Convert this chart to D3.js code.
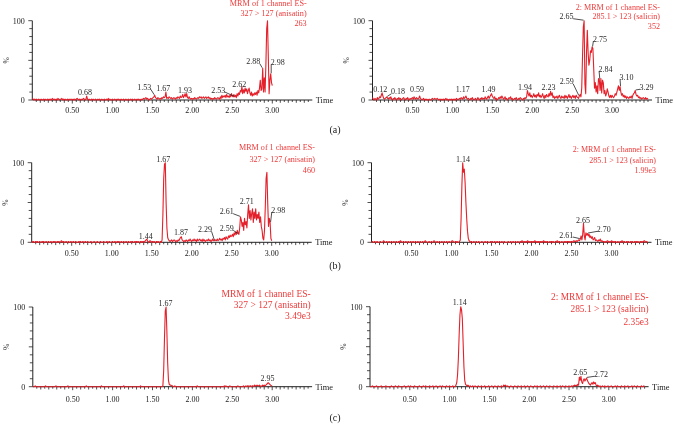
<!DOCTYPE html>
<html><head><meta charset="utf-8">
<script src="https://cdn.jsdelivr.net/npm/d3@7/dist/d3.min.js"></script>
<style>body{margin:0;background:#fff}svg{display:block;will-change:transform}</style>
</head><body>
<svg id="chart" width="674" height="424"></svg>
<script>
// ---------- DATA (relative intensity %, sampled every 0.01 min from 0.00) ----------
const STEP = 0.01;
const anisatinA = [
2,1,0,1,0,1,0,0,1,0, 0,1,0,0,1,0,1,0,0,1, 0,1,0,1,0,2,1,0,1,0, 1,0,2,1,0,1,1,2,0,1,
0,1,0,0,1,0,1,0,1,1, 0,1,0,1,0,1,2,1,0,1, 0,1,0,1,2,1,0,1,5,1, 0,1,0,0,1,0,1,0,0,1,
0,0,1,0,1,0,0,1,0,0, 1,0,0,1,0,2,0,1,0,0, 1,0,0,1,0,0,1,0,1,0, 0,1,0,0,1,0,0,1,0,0,
1,0,0,1,0,1,0,0,1,0, 0,1,0,1,0,0,1,0,1,2, 1,2,3,1,2,1,0,1,2,1, 2,3,4,6,3,2,1,3,2,1,
2,1,3,2,4,3,4,10,2,3, 2,4,3,2,3,1,2,3,2,1, 3,2,4,3,2,5,3,4,7,3, 5,8,4,8,3,2,4,2,1,2,
1,2,1,3,2,1,2,3,2,4, 3,4,2,3,4,2,3,4,2,3, 4,2,3,1,2,1,2,1,3,2, 1,2,3,2,1,4,2,6,3,5,
4,6,3,7,4,5,3,6,4,8, 5,4,7,4,6,3,8,5,9,7, 12,10,17,8,13,9,15,11,14,8, 12,15,9,6,10,5,8,6,9,7,
10,6,12,9,15,25,12,14,40,10, 28,10,45,90,100,55,8,25,33,22, 18];
const salicinA = [
3,1,0,2,1,0,3,1,2,4, 3,6,9,5,2,1,2,3,4,2, 1,3,2,4,1,0,2,1,3,1, 0,2,1,3,1,2,0,1,2,3,
1,0,2,1,3,1,0,2,1,2, 3,1,4,2,1,3,2,1,2,5, 2,1,0,1,2,0,1,0,1,0, 0,1,0,0,1,2,1,1,2,1,
1,2,1,0,1,1,0,1,0,1, 0,1,2,0,1,0,0,1,0,1, 0,1,0,1,0,2,1,0,1,2, 1,3,2,1,4,2,3,5,2,1,
2,1,0,2,1,3,1,0,1,2, 0,1,3,1,0,2,1,3,1,2, 1,4,2,1,3,5,2,4,6,8, 5,3,2,4,1,2,0,1,3,2,
4,2,5,3,1,2,4,1,2,0, 1,3,2,4,1,2,0,1,2,1, 3,1,0,2,1,3,2,1,0,2, 1,3,2,4,12,8,5,9,4,6,
3,5,8,4,6,3,7,5,9,4, 6,3,5,8,4,2,6,3,7,5, 4,8,5,11,6,9,3,5,2,4, 3,5,2,4,6,3,2,5,3,4,
2,6,3,5,2,4,7,3,5,2, 4,6,3,5,2,6,4,3,2,5, 7,4,15,55,92,100,20,8,60,88, 60,44,50,62,60,67,65,40,15,22,
10,18,8,27,26,12,27,9,25,22, 8,12,5,8,14,10,5,3,6,3, 6,4,3,5,8,6,10,14,18,12, 17,10,6,8,4,6,3,5,2,4,
3,2,4,3,5,2,6,8,9,12, 7,5,6,3,4,2,3,1,2,3, 2,1,3,1,2,1];
const anisatinB = [
1,0,1,0,0,1,0,1,0,0, 1,0,0,1,0,1,0,0,1,0, 0,1,0,0,1,0,0,1,0,1, 0,0,1,0,1,0,0,2,1,0,
1,0,0,1,0,0,1,0,0,1, 0,0,1,0,0,1,0,0,0,1, 0,1,0,0,1,0,0,1,0,0, 1,0,0,0,1,0,0,0,1,0,
0,0,1,0,0,0,1,0,0,0, 1,0,0,0,1,0,0,1,0,0, 0,1,0,0,1,0,0,1,0,1, 0,0,1,0,0,1,0,0,1,0,
0,1,0,0,1,0,1,0,0,1, 0,1,0,1,0,0,1,0,1,0, 1,0,2,3,4,1,0,1,2,1, 0,1,0,1,0,0,1,0,1,0,
0,1,0,3,35,80,98,100,50,18, 6,3,2,1,2,3,1,2,3,2, 1,2,1,3,2,4,6,7,3,2, 1,2,1,3,2,1,3,2,4,2,
1,3,2,4,2,3,1,4,2,3, 4,2,3,1,4,2,3,1,2,3, 2,4,2,3,1,2,4,2,3,2, 3,2,4,2,3,5,3,4,2,5,
4,6,3,7,5,4,8,6,9,7, 8,10,7,12,9,13,10,15,12,10, 18,32,28,20,25,15,30,22,26,18, 35,47,30,40,28,36,42,25,38,30,
42,28,35,30,38,25,32,20,15,5, 3,15,45,80,88,50,20,30,25,5, 2];
const salicinB = [
0,1,0,0,1,0,0,1,0,0, 0,1,0,0,0,2,1,0,0,1, 0,0,1,0,0,1,0,0,1,0, 0,1,0,0,1,0,2,1,0,0,
1,0,0,1,0,0,1,0,0,1, 0,0,1,0,0,1,0,0,1,0, 0,1,0,0,1,0,0,2,1,0, 0,0,1,0,0,1,0,0,2,1,
0,0,1,0,0,1,0,0,1,0, 0,1,0,0,1,0,0,1,0,0, 1,2,1,0,0,1,0,1,0,0, 1,3,30,72,100,88,92,75,50,30,
14,5,2,1,0,1,0,0,1,0, 0,1,0,0,1,0,0,0,1,0, 0,0,1,0,0,1,0,0,0,1, 0,1,0,0,1,0,0,1,0,0,
1,0,0,1,0,0,1,0,0,0, 0,1,0,0,1,0,0,1,0,0, 1,0,0,1,0,0,1,0,2,1, 0,1,0,1,0,2,1,0,1,0,
1,0,1,0,2,1,0,1,0,1, 0,1,0,1,0,2,1,0,1,0, 1,0,0,1,0,1,0,1,0,0, 1,0,2,1,0,1,0,0,1,0,
0,1,0,1,0,1,1,0,1,0, 1,0,1,2,1,1,2,1,2,3, 2,4,8,3,10,24,8,3,12,9, 11,8,10,6,8,5,7,3,4,6,
2,3,2,1,3,2,4,1,2,1, 1,0,1,0,1,2,1,0,1,0, 2,1,0,1,0,1,0,0,1,0, 0,1,0,2,1,0,1,0,0,1,
0,1,0,0,1,0,1,0,0,1, 0,1,0,1,0,0,1,0,1,0, 1,2,1,0,1,0];
const anisatinC = [
0,0,0,1,0,0,0,0,0,0, 0,0,0,0,0,0,1,0,0,0, 0,0,0,0,0,0,0,0,0,1, 0,0,0,0,0,0,0,0,0,0,
0,0,0,0,1,0,0,0,0,0, 0,0,0,0,0,0,0,0,0,0, 0,0,0,0,0,0,0,1,0,0, 0,0,0,0,0,0,0,0,0,0,
0,0,0,0,0,0,1,0,0,0, 0,0,0,0,0,0,0,0,0,0, 0,0,0,0,0,0,0,0,0,0, 0,0,0,0,1,0,0,0,0,0,
0,0,0,0,0,0,0,0,0,0, 0,0,0,0,0,1,0,0,0,0, 0,0,0,0,0,0,0,0,0,0, 0,0,0,0,0,0,0,0,0,0,
0,0,0,1,20,60,95,100,70,30, 8,3,2,2,1,1,0,0,1,0, 0,0,0,0,0,0,0,0,0,0, 0,0,0,0,0,0,0,0,0,0,
0,0,0,0,0,0,1,0,0,0, 0,0,0,0,0,0,0,0,0,0, 0,0,0,0,0,0,0,0,0,0, 0,0,0,0,0,0,0,0,0,0,
1,0,1,0,0,0,0,1,0,0, 0,0,0,0,0,0,0,1,0,0, 0,0,0,0,1,0,0,1,0,1, 1,0,1,1,0,1,1,0,2,1,
1,2,1,1,2,1,0,1,2,1, 2,1,2,3,4,5,4,3,2,1, 1];
const salicinC = [
0,0,0,1,0,0,0,0,1,0, 0,0,0,0,1,0,0,0,0,0, 1,0,0,0,0,0,0,1,0,0, 0,0,1,0,0,0,1,0,0,0,
0,0,0,1,0,0,0,0,1,0, 0,1,0,0,0,0,1,0,0,0, 0,0,1,0,0,0,0,1,0,0, 1,0,0,0,0,1,0,0,0,1,
0,0,0,1,0,0,0,0,1,0, 0,1,0,0,0,0,1,0,0,0, 1,0,0,0,1,0,0,0,2,5, 15,35,65,90,100,96,85,55,25,8,
3,2,1,2,1,0,1,0,0,1, 0,0,1,0,0,0,1,0,0,0, 1,0,0,0,1,0,0,0,0,1, 0,0,0,1,0,0,0,1,0,0,
0,1,0,0,0,1,0,0,2,1, 2,1,0,1,0,0,0,1,0,0, 0,0,1,0,0,0,1,0,0,0, 1,0,0,0,1,0,0,0,1,0,
0,0,1,0,0,0,0,1,0,0, 1,0,0,0,1,0,0,0,1,0, 0,0,1,0,0,0,1,0,0,0, 0,1,0,0,0,1,0,0,0,1,
0,0,1,0,0,0,1,0,0,0, 1,0,0,1,0,1,1,2,1,2, 1,3,2,12,8,13,6,4,8,10, 7,9,11,8,6,4,3,2,4,5,
3,6,4,5,2,1,2,1,0,1, 0,0,1,0,0,1,0,0,0,1, 0,0,0,1,0,0,0,0,1,0, 0,1,0,0,0,0,1,0,0,0,
1,0,0,0,1,0,0,0,0,1, 0,0,1,0,0,0,1,0,0,0, 0,1,0,0,1,0];

const xTickLabels = ["0.50","1.00","1.50","2.00","2.50","3.00"];
const yTickLabels = ["0","100"];
const anisatinTitle = ["MRM of 1 channel ES-","327 > 127 (anisatin)"];
const salicinTitle = ["2: MRM of 1 channel ES-","285.1 > 123 (salicin)"];
const intensities = ["263","352","460","1.99e3","3.49e3","2.35e3"];
const panelTags = ["(a)","(b)","(c)"];

const peaksAL = [["0.68",0.68],["1.53",1.53],["1.67",1.67],["1.93",1.93],["2.53",2.53],["2.62",2.62],["2.88",2.88],["2.98",2.98]];
const peaksAR = [["0.12",0.12],["0.18",0.18],["0.59",0.59],["1.17",1.17],["1.49",1.49],["1.94",1.94],["2.23",2.23],["2.59",2.59],["2.65",2.65],["2.75",2.75],["2.84",2.84],["3.10",3.10],["3.29",3.29]];
const peaksBL = [["1.44",1.44],["1.67",1.67],["1.87",1.87],["2.29",2.29],["2.59",2.59],["2.61",2.61],["2.71",2.71],["2.98",2.98]];
const peaksBR = [["1.14",1.14],["2.61",2.61],["2.65",2.65],["2.70",2.70]];
const peaksCL = [["1.67",1.67],["2.95",2.95]];
const peaksCR = [["1.14",1.14],["2.65",2.65],["2.72",2.72]];

// ---------- LAYOUT (positions / styles) ----------
const RED = "#e4202a", TRED = "#ee3a3a", FONT = "'Liberation Serif','Times New Roman',serif";
const panels = [
 {data:anisatinA, title:anisatinTitle, inten:0, peaks:peaksAL, x0:32.3, w:280, y0:100, y100:20.7, tr:306.7, tb:[6,16.3,26], ts:8.2, tick:12.8,
  off:[[-1.7,-4,0],[-10.4,-7.9,1],[-2.6,-3.4,0],[-1.7,-3.7,0],[-16.4,-6.8,1],[-2.6,-2.5,0],[-9.4,-6.6,1],[7,-11.5,1]]},
 {data:salicinA, title:salicinTitle, inten:1, peaks:peaksAR, x0:372.5, w:279.5, y0:100, y100:20.7, tr:660, tb:[9.8,19,28.5], ts:8.1, tick:12.8,
  off:[[-1.8,-3.6,0],[11.1,-5.1,1],[-2.7,-6.7,0],[-3.1,-6.7,0],[-3,-4.4,0],[-2.4,-3.2,0],[-2.2,-4,0],[-12.7,-14.3,1],[-17.5,-4,1],[7.8,-7.9,1],[6.3,-10.1,1],[6.5,-9.2,1],[11.3,-3.2,1]]},
 {data:anisatinB, title:anisatinTitle, inten:2, peaks:peaksBL, x0:31.7, w:280, y0:242.3, y100:162.7, tr:315, tb:[150,161.5,173.3], ts:8.1, tick:13.2,
  off:[[-1.2,-3.1,0],[-2,-3.7,0],[-0.3,-4.7,0],[-9.9,-11.4,1],[-12.2,-6,1],[-13.8,-5.1,1],[-1.8,-3.9,0],[8.2,-12.4,1]]},
 {data:salicinB, title:salicinTitle, inten:3, peaks:peaksBR, x0:371.5, w:280, y0:242.3, y100:162.7, tr:656, tb:[151.5,162.5,173.3], ts:8.0, tick:13.2,
  off:[[0.3,-3.4,0],[-14,-4.1,1],[-0.5,-3.2,0],[16.2,-4.2,1]]},
 {data:anisatinC, title:anisatinTitle, inten:4, peaks:peaksCL, x0:32.8, w:279.3, y0:386.7, y100:307, tr:310.7, tb:[296.7,308,319.3], ts:9.5, tick:15.3,
  off:[[-0.6,-3.7,0],[-0.7,-4.4,0]]},
 {data:salicinC, title:salicinTitle, inten:5, peaks:peaksCR, x0:370, w:278.6, y0:386.7, y100:306.7, tr:648.7, tb:[300,312,325], ts:9.4, tick:15.3,
  off:[[-1,-4,0],[-0.7,-3.6,0],[14.4,-3.6,1]]}
];
const tagPos = [[335,129],[335,265.5],[335,417]];

const svg = d3.select("#chart");

panels.forEach(p => {
  const x = d3.scaleLinear().domain([0,3.5]).range([p.x0, p.x0 + p.w]);
  const y = d3.scaleLinear().domain([0,100]).range([p.y0, p.y100]);
  const g = svg.append("g");

  // x axis line and ticks
  g.append("line").attr("x1", x(0)).attr("x2", x(3.5)).attr("y1", p.y0).attr("y2", p.y0)
    .attr("stroke","#222").attr("stroke-width",1);
  const xt = d3.range(1, 70).map(i => i*0.05);
  g.selectAll(".xt").data(xt).enter().append("line")
    .attr("x1", d => x(d)).attr("x2", d => x(d)).attr("y1", p.y0)
    .attr("y2", (d,i) => p.y0 + ((i+1) % 10 === 0 ? 3.5 : ((i+1) % 2 === 0 ? 2.8 : 2)))
    .attr("stroke","#222").attr("stroke-width",0.8);
  g.selectAll(".xl").data(xTickLabels).enter().append("text")
    .attr("x", d => x(+d)).attr("y", p.y0 + p.tick).attr("text-anchor","middle")
    .attr("font-family",FONT).attr("font-size",8).attr("fill","#222").text(d => d);
  g.append("text").attr("x", x(3.5) + 3.5).attr("y", p.y0 + 3).attr("font-family",FONT)
    .attr("font-size",8.4).attr("fill","#222").text("Time");

  // y axis
  g.append("line").attr("x1", p.x0).attr("x2", p.x0).attr("y1", y(0)).attr("y2", y(100))
    .attr("stroke","#222").attr("stroke-width",1);
  g.selectAll(".yt").data(d3.range(0,101,10)).enter().append("line")
    .attr("x1", p.x0).attr("x2", d => p.x0 - (d % 50 === 0 ? 4 : 3))
    .attr("y1", d => y(d)).attr("y2", d => y(d)).attr("stroke","#222").attr("stroke-width",0.8);
  g.selectAll(".yl").data(yTickLabels).enter().append("text")
    .attr("x", p.x0 - 7.5).attr("y", d => y(+d) + 2.8).attr("text-anchor","end")
    .attr("font-family",FONT).attr("font-size",8).attr("fill","#222").text(d => d);
  g.append("text").attr("transform", `translate(${p.x0 - 26},${(p.y0 + p.y100)/2}) rotate(-90)`)
    .attr("text-anchor","middle").attr("dy","0.3em").attr("font-family",FONT).attr("font-size",7.5)
    .attr("fill","#222").text("%");

  // trace
  const line = d3.line().x((d,i) => x(i*STEP)).y(d => y(d));
  g.append("path").datum(p.data).attr("d", line).attr("fill","none")
    .attr("stroke",RED).attr("stroke-width",1.1).attr("stroke-linejoin","round");

  // title
  const lines = p.title.concat([intensities[p.inten]]);
  g.selectAll(".tt").data(lines).enter().append("text")
    .attr("x", p.tr).attr("y", (d,i) => p.tb[i]).attr("text-anchor","end")
    .attr("font-family",FONT).attr("font-size",p.ts).attr("fill",TRED).text(d => d);

  // peak labels
  p.peaks.forEach((pk, k) => {
    const [dx, dy, lead] = p.off[k];
    const idx = Math.round(pk[1]/STEP);
    const px = x(idx*STEP), py = y(p.data[idx]);
    const cx = px + dx, cy = py + dy;
    const t = g.append("text").attr("x", cx).attr("y", cy + 2.7).attr("text-anchor","middle")
      .attr("font-family",FONT).attr("font-size",8).attr("fill","#2a2a2a").text(pk[0]);
    if (lead) {
      const w = t.node().getComputedTextLength();
      const sx = dx < 0 ? cx + w/2 - 0.5 : cx - w/2 + 0.5;
      g.append("line").attr("x1", sx).attr("y1", cy + 2).attr("x2", px + (dx < 0 ? -0.5 : 0.5)).attr("y2", py - 0.5)
        .attr("stroke","#222").attr("stroke-width",0.8);
    }
  });
});

svg.selectAll(".tag").data(panelTags).enter().append("text")
  .attr("x", (d,i) => tagPos[i][0]).attr("y", (d,i) => tagPos[i][1] + 3.5).attr("text-anchor","middle")
  .attr("font-family",FONT).attr("font-size",10).attr("fill","#222").text(d => d);
</script>
</body></html>
